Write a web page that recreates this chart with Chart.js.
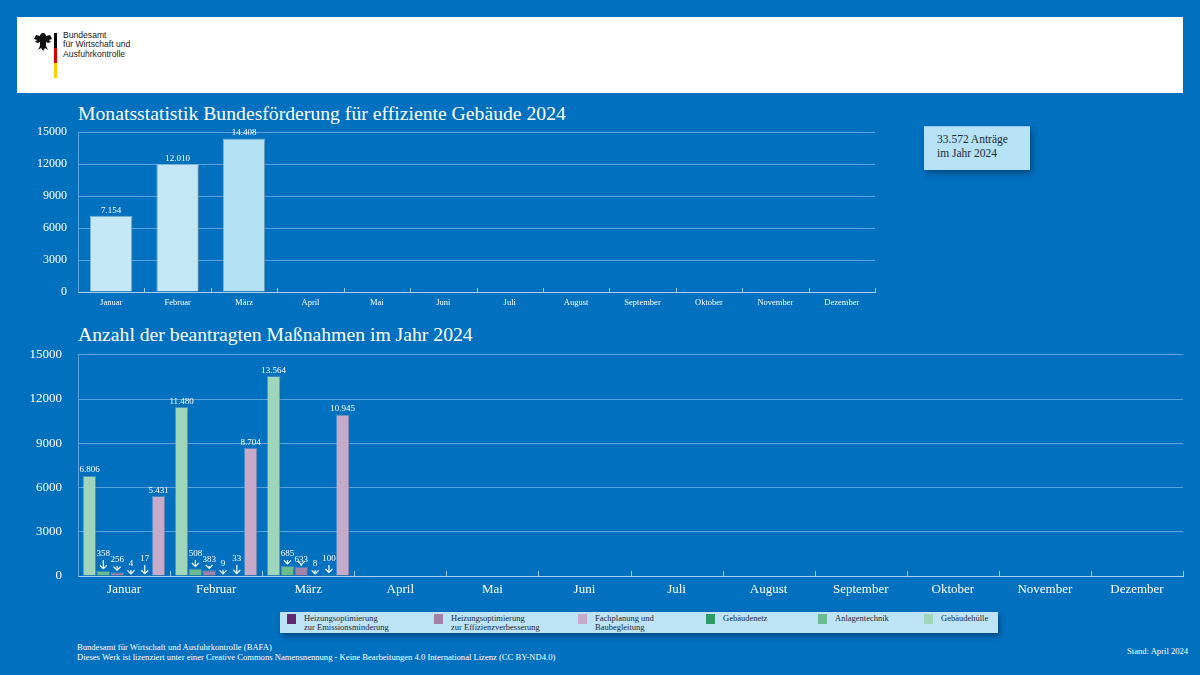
<!DOCTYPE html>
<html lang="de">
<head>
<meta charset="utf-8">
<script src="https://cdn.jsdelivr.net/npm/chart.js@4"></script>
<style>
  html,body{margin:0;padding:0}
  body{width:1200px;height:675px;background:#0070bf;position:relative;overflow:hidden;font-family:"Liberation Serif",serif;color:#fff}
  .abs{position:absolute}
  #header{left:17px;top:17px;width:1166px;height:76px;background:#fff}
  .title{font-family:"Liberation Serif",serif;font-size:19.7px;white-space:nowrap;color:#fff}
  #info{left:924px;top:126px;width:106px;height:44px;background:#b7e1f4;box-shadow:2px 3px 6px rgba(0,0,0,0.35);border-top:1px solid #8fcbe8;color:#1c2a3a;font-size:11.5px;line-height:14px;box-sizing:border-box;padding:5px 0 0 13px}
  #legend{left:280px;top:612px;width:718px;height:21px;background:#bde3f5;box-shadow:2px 3px 5px rgba(0,0,0,0.35)}
  .li{position:absolute;top:0;height:21px}
  .sw{position:absolute;top:2px;width:9px;height:10px}
  .lt{position:absolute;top:2px;font-size:8.5px;line-height:8.5px;color:#1c2a3a;white-space:nowrap}
  .foot{font-size:8.6px;white-space:nowrap;color:#fff}
  canvas{position:absolute;left:0}
</style>
</head>
<body>
<div id="header" class="abs">
  <svg class="abs" style="left:16px;top:15px" width="20" height="20" viewBox="0 0 20 20">
    <path d="M10 1 C8 1 7 3 7 4 L3 3 L1 7 L4 8 L2 10 L5 11 L7 10 L7 14 L5 18 L8 16 L10 19 L12 16 L15 18 L13 14 L13 10 L15 11 L18 10 L16 8 L19 7 L17 3 L13 4 C13 3 12 1 10 1 Z" fill="#111"/>
  </svg>
  <div class="abs" style="left:37px;top:16px;width:3px;height:15px;background:#000"></div>
  <div class="abs" style="left:37px;top:31px;width:3px;height:15px;background:#dd0000"></div>
  <div class="abs" style="left:37px;top:46px;width:3px;height:15px;background:#ffcc00"></div>
  <div class="abs" style="left:46px;top:14px;font-family:'Liberation Sans Narrow','Liberation Sans',sans-serif;font-size:8.6px;line-height:9.3px;color:#222">Bundesamt<br>für Wirtschaft und<br>Ausfuhrkontrolle</div>
</div>

<div class="abs title" style="left:78px;top:102px">Monatsstatistik Bundesförderung für effiziente Gebäude 2024</div>
<div class="abs title" style="left:78px;top:323px">Anzahl der beantragten Maßnahmen im Jahr 2024</div>

<div id="info" class="abs">33.572 Anträge<br>im Jahr 2024</div>

<canvas id="top" width="900" height="201" style="top:114px"></canvas>
<canvas id="bottom" width="1200" height="274" style="top:331px"></canvas>

<div id="legend" class="abs"></div>

<div class="abs foot" style="left:77px;top:642px">Bundesamt für Wirtschaft und Ausfuhrkontrolle (BAFA)</div>
<div class="abs foot" style="left:77px;top:652px">Dieses Werk ist lizenziert unter einer Creative Commons Namensnennung - Keine Bearbeitungen 4.0 International Lizenz (CC BY-ND4.0)</div>
<div class="abs foot" style="left:1127px;top:646px">Stand: April 2024</div>

<script>
// ---------- DATA ----------
const months = ['Januar','Februar','März','April','Mai','Juni','Juli','August','September','Oktober','November','Dezember'];
const yTicks = [0, 3000, 6000, 9000, 12000, 15000];
const antraege = [7154, 12010, 14408];

const gebaeudehuelle = [6806, 11480, 13564];
const anlagentechnik = [358, 508, 685];
const heizEffizienz = [256, 383, 633];
const heizEmission = [4, 9, 8];
const gebaeudenetz = [17, 33, 100];
const fachplanung = [5431, 8704, 10945];

const legendLabels = [
  ['Heizungsoptimierung','zur Emissionsminderung'],
  ['Heizungsoptimierung','zur Effizienzverbesserung'],
  ['Fachplanung und','Baubegleitung'],
  ['Gebäudenetz'],
  ['Anlagentechnik'],
  ['Gebäudehülle']
];

// ---------- STYLES ----------
const C = {
  emission:'#5e2a6c', effizienz:'#a481a9', fachplanung:'#c7a9c9',
  netz:'#2c9a68', anlagen:'#6bbb92', huelle:'#9fd6bb',
  top:['#c6e7f7','#c4e6f7','#b3e0f2']
};
const legendColors = [C.emission, C.effizienz, C.fachplanung, C.netz, C.anlagen, C.huelle];
const legendX = [7, 154, 298, 426, 538, 644];
const FONT = "'Liberation Serif', serif";

// legend (HTML)
const lg = document.getElementById('legend');
legendLabels.forEach((lab, i) => {
  const d = document.createElement('div');
  d.className = 'li'; d.style.left = legendX[i] + 'px';
  d.innerHTML = '<div class="sw" style="left:0;background:' + legendColors[i] + '"></div>' +
    '<div class="lt" style="left:17px">' + lab.join('<br>') + '</div>';
  lg.appendChild(d);
});

const fmt = v => String(v).replace(/\B(?=(\d{3})+(?!\d))/g, '.');

const shadowPlugin = {
  id: 'shadow',
  beforeDatasetsDraw(chart) {
    const ctx = chart.ctx; ctx.save();
    ctx.shadowColor = 'rgba(0,0,0,0.35)'; ctx.shadowBlur = 4; ctx.shadowOffsetX = 2; ctx.shadowOffsetY = 1;
  },
  afterDatasetsDraw(chart) { chart.ctx.restore(); }
};

const innerTicks = {
  id: 'innerTicks',
  afterDraw(chart, args, opts) {
    const ctx = chart.ctx, x = chart.scales.x, area = chart.chartArea;
    const half = (x.getPixelForValue(1) - x.getPixelForValue(0)) / 2;
    ctx.save(); ctx.strokeStyle = opts.color; ctx.lineWidth = 1;
    for (let i = 1; i <= months.length; i++) {
      const px = Math.round(x.getPixelForValue(i) - half) + 0.5;
      ctx.beginPath(); ctx.moveTo(px, area.bottom); ctx.lineTo(px, area.bottom - opts.len); ctx.stroke();
    }
    ctx.restore();
  }
};

const valueLabels = {
  id: 'valueLabels',
  afterDatasetsDraw(chart, args, opts) {
    const ctx = chart.ctx; ctx.save();
    ctx.fillStyle = '#fff'; ctx.strokeStyle = '#fff'; ctx.font = opts.font; ctx.textAlign = 'center';
    const zero = chart.scales.y.getPixelForValue(0);
    chart.data.datasets.forEach((ds, di) => {
      const meta = chart.getDatasetMeta(di);
      meta.data.forEach((bar, i) => {
        const v = ds.data[i]; if (v == null) return;
        const t = fmt(v);
        if (!opts.arrowBelow || v >= opts.arrowBelow) {
          ctx.textBaseline = 'bottom'; ctx.fillText(t, bar.x, bar.y - 1);
        } else {
          const ty = zero - opts.lift[di];
          ctx.textBaseline = 'middle'; ctx.fillText(t, bar.x, ty);
          const y1 = ty + 6, y2 = bar.y - 2;
          ctx.lineWidth = 1.2;
          ctx.beginPath(); ctx.moveTo(bar.x, y1); ctx.lineTo(bar.x, y2); ctx.stroke();
          ctx.beginPath(); ctx.moveTo(bar.x - 3.5, y2 - 3.5); ctx.lineTo(bar.x, y2); ctx.lineTo(bar.x + 3.5, y2 - 3.5); ctx.stroke();
        }
      });
    });
    ctx.restore();
  }
};

function yScale(width, fontSize, pad, gridColor) {
  return {
    min: 0, max: 15000,
    afterBuildTicks: ax => { ax.ticks = yTicks.map(v => ({ value: v })); },
    afterFit: ax => { ax.width = width; },
    ticks: { color: '#fff', font: { family: FONT, size: fontSize }, padding: pad, callback: v => String(v) },
    grid: { color: gridColor, drawTicks: false },
    border: { color: gridColor }
  };
}

// ---------- TOP CHART ----------
new Chart(document.getElementById('top'), {
  type: 'bar',
  data: {
    labels: months,
    datasets: [{ data: antraege, backgroundColor: C.top, borderColor: 'rgba(140,200,230,0.9)', borderWidth: 1, barPercentage: 0.64, categoryPercentage: 1 }]
  },
  options: {
    responsive: false, animation: false, devicePixelRatio: 1,
    layout: { padding: { top: 7, right: 25, left: 0, bottom: 0 } },
    plugins: { legend: { display: false }, tooltip: { enabled: false },
      valueLabels: { font: '9px ' + FONT }, innerTicks: { color: 'rgba(170,210,240,0.9)', len: 4 } },
    scales: {
      x: {
        afterFit: ax => { ax.height = 23; },
        ticks: { color: '#fff', font: { family: FONT, size: 8.5 }, padding: 6, maxRotation: 0, autoSkip: false },
        grid: { display: false, drawTicks: false },
        border: { color: 'rgba(170,210,240,0.95)' }
      },
      y: yScale(78, 12, 11, 'rgba(120,180,230,0.75)')
    }
  },
  plugins: [shadowPlugin, valueLabels, innerTicks]
});

// ---------- BOTTOM CHART ----------
const bd = (data, color) => ({ data, backgroundColor: color, borderColor: 'rgba(255,255,255,0.25)', borderWidth: 1, barPercentage: 1, categoryPercentage: 0.9 });
new Chart(document.getElementById('bottom'), {
  type: 'bar',
  data: {
    labels: months,
    datasets: [
      bd(gebaeudehuelle, C.huelle),
      bd(anlagentechnik, C.anlagen),
      bd(heizEffizienz, C.effizienz),
      bd(heizEmission, C.emission),
      bd(gebaeudenetz, C.netz),
      bd(fachplanung, C.fachplanung)
    ]
  },
  options: {
    responsive: false, animation: false, devicePixelRatio: 1,
    layout: { padding: { top: 9, right: 17, left: 0, bottom: 0 } },
    plugins: { legend: { display: false }, tooltip: { enabled: false },
      valueLabels: { font: '9px ' + FONT, arrowBelow: 1000, lift: [0, 22, 16, 12, 17, 0] },
      innerTicks: { color: 'rgba(170,210,240,0.9)', len: 5 } },
    scales: {
      x: {
        afterFit: ax => { ax.height = 29; },
        ticks: { color: '#fff', font: { family: FONT, size: 13 }, padding: 6, maxRotation: 0, autoSkip: false },
        grid: { display: false, drawTicks: false },
        border: { color: 'rgba(170,210,240,0.95)' }
      },
      y: yScale(78, 13, 16, 'rgba(120,180,230,0.75)')
    }
  },
  plugins: [shadowPlugin, valueLabels, innerTicks]
});
</script>
</body>
</html>
